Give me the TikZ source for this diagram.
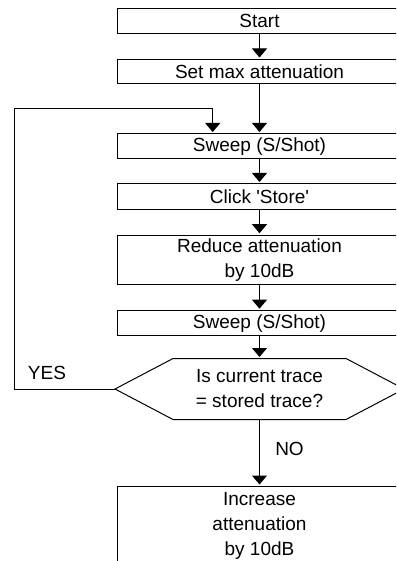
\documentclass[tikz,border=0pt]{standalone}
\usepackage{fontspec}
\setmainfont{Liberation Sans}[Ligatures=TeXOff]
\usetikzlibrary{arrows.meta}
\begin{document}
\begin{tikzpicture}[x=1pt,y=-1pt,
  line width=1pt,
  font=\fontsize{19}{25}\selectfont,
  stepbox/.style={draw, rectangle, minimum width=284pt, inner sep=0pt, align=center},
  arr/.style={-{Triangle[width=15pt,length=9pt]}, shorten >=1.5pt}]
\useasboundingbox (0,0) rectangle (396,561);
\clip (0,0) rectangle (396,561);
\node[stepbox, minimum height=25pt] (start) at (259.5,21) {Start};
\node[stepbox, minimum height=24pt] (setmax) at (259.5,71.5) {Set max attenuation};
\node[stepbox, minimum height=25pt] (sweep1) at (259.5,146.5) {Sweep (S/Shot)};
\node[stepbox, minimum height=25pt] (store) at (259.5,196.5) {Click 'Store'};
\node[stepbox, minimum height=49pt] (reduce) at (259.5,259.7) {Reduce attenuation\\by 10dB};
\node[stepbox, minimum height=25pt] (sweep2) at (259.5,323.2) {Sweep (S/Shot)};
\node[minimum width=288pt, minimum height=60pt, inner sep=0pt, align=center] (dec) at (259.5,389) {Is current trace\\= stored trace?};
\draw (dec.west) -- ([xshift=58pt]dec.north west) -- ([xshift=-58pt]dec.north east) -- (dec.east) -- ([xshift=-58pt]dec.south east) -- ([xshift=58pt]dec.south west) -- cycle;
\node[stepbox, minimum height=78pt, anchor=north] (increase) at (259.5,486) {Increase\\attenuation\\by 10dB};
\node (yes) at (47,373) {YES};
\node (no) at (289.5,449) {NO};
\coordinate (loopL) at (14,109);
\coordinate (loopR) at (212.7,109);
\draw[arr] (start) -- (setmax);
\draw[arr] (setmax) -- (sweep1);
\draw[arr] (sweep1) -- (store);
\draw[arr] (store) -- (reduce);
\draw[arr] (reduce) -- (sweep2);
\draw[arr] (sweep2) -- (dec);
\draw[arr] (dec) -- (increase);
\draw[arr] (dec.west) -| (loopL) -- (loopR) -- (loopR |- sweep1.north);
\end{tikzpicture}
\end{document}
